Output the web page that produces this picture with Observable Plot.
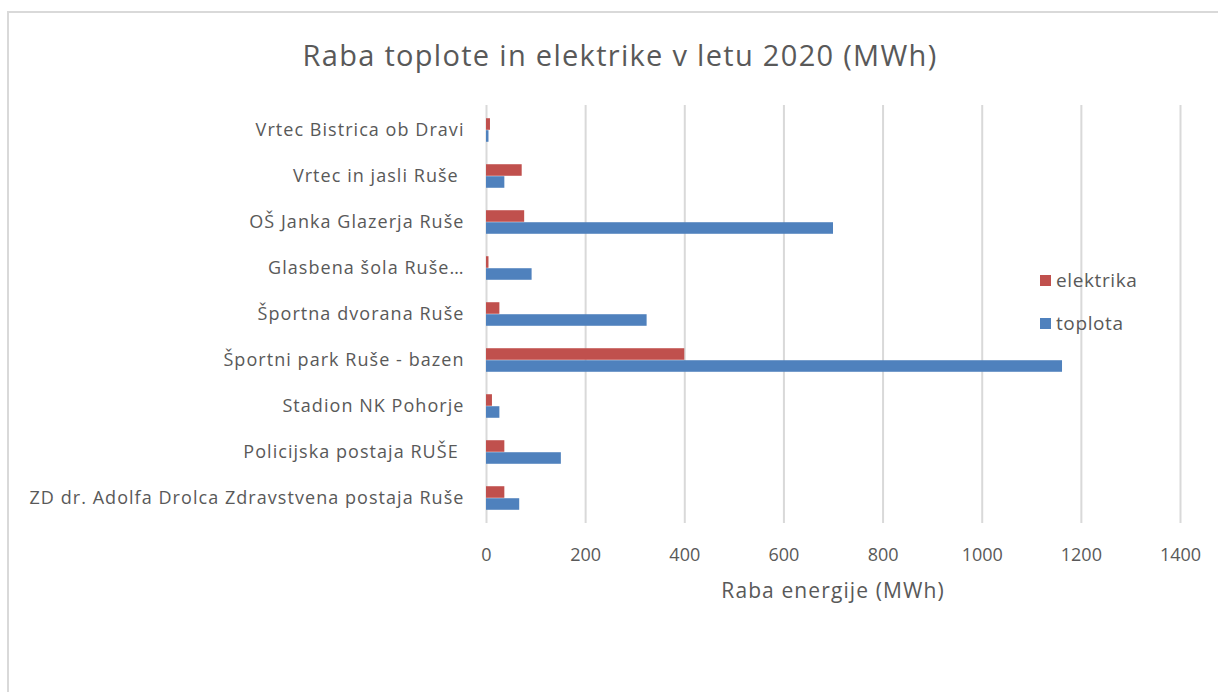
<!DOCTYPE html>
<html>
<head>
<meta charset="utf-8">
<script src="https://cdn.jsdelivr.net/npm/d3@7"></script>
<script src="https://cdn.jsdelivr.net/npm/@observablehq/plot@0.6"></script>
<style>
  html, body { margin: 0; padding: 0; background: #fff; }
  #wrap { position: relative; width: 1218px; height: 692px; overflow: hidden; font-family: "Open Sans", sans-serif; }
  #frame { position: absolute; left: 7px; top: 11px; width: 1300px; height: 800px; border-left: 2px solid #d9d9d9; border-top: 2px solid #d9d9d9; }
  #chart { position: absolute; left: 0; top: 0; }
  #title { position: absolute; left: 0; width: 1240px; top: 35px; text-align: center; font-size: 29px; letter-spacing: 1.3px; color: #595959; }
  #xlabel { position: absolute; left: 633px; width: 400px; top: 576px; text-align: center; font-size: 21px; letter-spacing: 1.1px; color: #595959; }
  #legend { position: absolute; left: 1040px; top: 268px; font-size: 19px; letter-spacing: 0.6px; color: #595959; }
  #legend .item { display: flex; align-items: center; height: 24px; margin-bottom: 19px; }
  #legend .sw { width: 11px; height: 11px; margin-right: 5px; }
  #chart svg g[aria-label="y-axis tick label"] text { letter-spacing: 1.05px; }
</style>
</head>
<body>
<div id="wrap">
  <div id="frame"></div>
  <div id="chart"></div>
  <div id="title">Raba toplote in elektrike v letu 2020 (MWh)</div>
  <div id="xlabel">Raba energije (MWh)</div>
  <div id="legend"></div>
</div>
<script>
const categories = [
  "Vrtec Bistrica ob Dravi",
  "Vrtec in jasli Ruše ",
  "OŠ Janka Glazerja Ruše",
  "Glasbena šola Ruše…",
  "Športna dvorana Ruše",
  "Športni park Ruše - bazen",
  "Stadion NK Pohorje",
  "Policijska postaja RUŠE ",
  "ZD dr. Adolfa Drolca Zdravstvena postaja Ruše"
];
const elektrika = [8, 72, 77, 5, 27, 400, 12, 37, 37];
const toplota = [5, 37, 700, 92, 324, 1162, 27, 151, 67];
const xTicks = [0, 200, 400, 600, 800, 1000, 1200, 1400];
const seriesNames = ["elektrika", "toplota"];
const seriesColors = ["#c0504d", "#4f81bd"];

const dataE = categories.map((c, i) => ({cat: c, v: elektrika[i]}));
const dataT = categories.map((c, i) => ({cat: c, v: toplota[i]}));

const bandH = (523 - 105) / categories.length;
const barH = 12;

const chart = Plot.plot({
  width: 1218,
  height: 692,
  marginLeft: 486,
  marginRight: 38,
  marginTop: 105,
  marginBottom: 169,
  style: { fontFamily: "Open Sans, sans-serif", fontSize: "18px", color: "#595959", background: "transparent", overflow: "visible" },
  x: { domain: [0, 1400], ticks: xTicks },
  y: { domain: categories, padding: 0 },
  marks: [
    Plot.gridX(xTicks, { stroke: "#d9d9d9", strokeWidth: 2, strokeOpacity: 1 }),
    Plot.barX(dataE, { x: "v", y: "cat", fill: seriesColors[0], insetTop: bandH / 2 - barH, insetBottom: bandH / 2 }),
    Plot.barX(dataT, { x: "v", y: "cat", fill: seriesColors[1], insetTop: bandH / 2, insetBottom: bandH / 2 - barH }),
    Plot.axisX(xTicks, { tickSize: 0, tickPadding: 25, label: null, fill: "#595959", fontSize: 18, tickFormat: d => String(d) }),
    Plot.axisY({ tickSize: 0, tickPadding: 22, label: null, fill: "#595959", fontSize: 18 })
  ]
});
document.getElementById("chart").appendChild(chart);

const legend = document.getElementById("legend");
seriesNames.forEach((n, i) => {
  const it = document.createElement("div");
  it.className = "item";
  const sw = document.createElement("div");
  sw.className = "sw";
  sw.style.background = seriesColors[i];
  const t = document.createElement("span");
  t.textContent = n;
  it.appendChild(sw); it.appendChild(t);
  legend.appendChild(it);
});
</script>
</body>
</html>
